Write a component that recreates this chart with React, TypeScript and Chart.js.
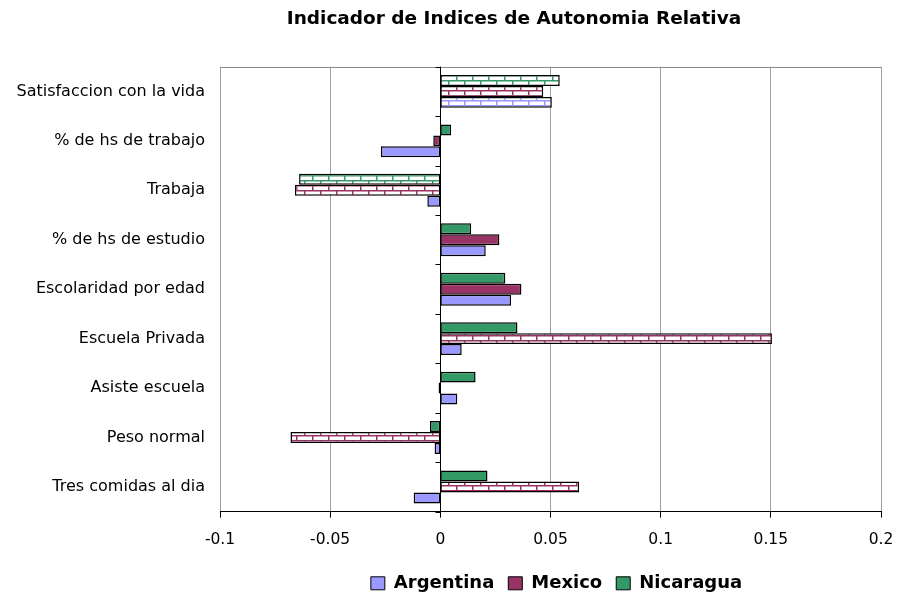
import React, { useEffect, useRef } from "react";
import { Chart, registerables } from "chart.js";

Chart.register(...registerables);

// ---- data ----
const categories = [
  "Satisfaccion con la vida",
  "% de hs de trabajo",
  "Trabaja",
  "% de hs de estudio",
  "Escolaridad por edad",
  "Escuela Privada",
  "Asiste escuela",
  "Peso normal",
  "Tres comidas al dia",
];
const seriesNames = ["Argentina", "Mexico", "Nicaragua"];
const argentina = [0.0506, -0.027, -0.0059, 0.0206, 0.0321, 0.0097, 0.0077, -0.0026, -0.0121];
const mexico = [0.0467, -0.0032, -0.066, 0.0268, 0.0368, 0.1505, -0.0008, -0.068, 0.063];
const nicaragua = [0.0542, 0.0049, -0.0641, 0.014, 0.0295, 0.035, 0.016, -0.0047, 0.0214];
// bars drawn with the hatched (brick) fill
const argentinaHatched = [true, false, false, false, false, false, false, false, false];
const mexicoHatched = [true, false, true, false, false, true, false, true, true];
const nicaraguaHatched = [true, false, true, false, false, false, false, false, false];
const xMin = -0.1;
const xMax = 0.2;
const xStep = 0.05;
const title = "Indicador de Indices de Autonomia Relativa";

// ---- styles ----
const COLORS = ["#9999FF", "#993366", "#339966"];
const FONT = "'DejaVu Sans', 'Liberation Sans', sans-serif";
const TITLE_SHIFT = 73.5;
const LEGEND_SHIFT = 6;

function makeBrick(color: string): CanvasPattern | string {
  const c = document.createElement("canvas");
  c.width = 16;
  c.height = 10;
  const g = c.getContext("2d");
  if (!g) return "#fff";
  g.fillStyle = "#ffffff";
  g.fillRect(0, 0, 16, 10);
  g.fillStyle = color;
  g.fillRect(0, 0, 16, 1.5);
  g.fillRect(0, 5, 16, 1.5);
  g.fillRect(0, 0, 1.5, 5);
  g.fillRect(8, 5, 1.5, 5);
  return g.createPattern(c, "repeat") || "#fff";
}

const decorPlugin = {
  id: "decor",
  afterLayout(chart: any) {
    if (chart.titleBlock) {
      chart.titleBlock.left += TITLE_SHIFT;
      chart.titleBlock.right += TITLE_SHIFT;
    }
    if (chart.legend) {
      chart.legend.left += LEGEND_SHIFT;
      chart.legend.right += LEGEND_SHIFT;
    }
  },
  beforeDatasetsDraw(chart: any) {
    const { ctx, chartArea } = chart;
    ctx.save();
    ctx.strokeStyle = "#8c8c8c";
    ctx.lineWidth = 1;
    ctx.beginPath();
    ctx.moveTo(chartArea.left, Math.round(chartArea.top) + 0.5);
    ctx.lineTo(chartArea.right, Math.round(chartArea.top) + 0.5);
    ctx.stroke();
    ctx.restore();
  },
  afterDatasetsDraw(chart: any) {
    const { ctx, chartArea } = chart;
    const xs = chart.scales.x;
    const ys = chart.scales.y;
    const x0 = Math.round(xs.getPixelForValue(0)) + 0.5;
    ctx.save();
    ctx.strokeStyle = "#000";
    ctx.lineWidth = 1;
    ctx.beginPath();
    ctx.moveTo(x0, chartArea.top);
    ctx.lineTo(x0, chartArea.bottom);
    const n = categories.length;
    const bounds: number[] = [chartArea.top];
    for (let k = 1; k < n; k++) {
      bounds.push((ys.getPixelForTick(k - 1) + ys.getPixelForTick(k)) / 2);
    }
    bounds.push(chartArea.bottom);
    bounds.forEach((b) => {
      const yy = Math.round(b) + 0.5;
      ctx.moveTo(x0 - 5, yy);
      ctx.lineTo(x0, yy);
    });
    ctx.stroke();
    ctx.restore();
  },
};

export default function App() {
  const ref = useRef<HTMLCanvasElement | null>(null);

  useEffect(() => {
    document.body.style.margin = "0";
    const canvas = ref.current;
    if (!canvas) return;

    const series = [
      { name: seriesNames[2], data: nicaragua, hatched: nicaraguaHatched, color: COLORS[2] },
      { name: seriesNames[1], data: mexico, hatched: mexicoHatched, color: COLORS[1] },
      { name: seriesNames[0], data: argentina, hatched: argentinaHatched, color: COLORS[0] },
    ];

    const datasets = series.map((s) => {
      const pat = makeBrick(s.color);
      return {
        label: s.name,
        data: s.data,
        backgroundColor: s.hatched.map((h) => (h ? pat : s.color)),
        borderColor: "#000",
        borderWidth: 1.5,
        borderSkipped: false,
        categoryPercentage: 0.665,
        barPercentage: 1,
        solidColor: s.color,
      };
    });

    const chart = new Chart(canvas, {
      type: "bar",
      data: { labels: categories, datasets: datasets as any },
      plugins: [decorPlugin],
      options: {
        indexAxis: "y",
        animation: false,
        responsive: false,
        maintainAspectRatio: false,
        layout: { padding: { left: 0, right: 16, top: 0, bottom: -6.3 } },
        plugins: {
          title: {
            display: true,
            text: title,
            color: "#000",
            font: { family: FONT, size: 18.5, weight: "bold" },
            padding: { top: 8, bottom: 36.5 },
          },
          legend: {
            display: true,
            position: "bottom",
            fullSize: false,
            reverse: true,
            labels: {
              color: "#000",
              font: { family: FONT, size: 18, weight: "bold" },
              boxWidth: 14,
              boxHeight: 13,
              padding: 14,
              generateLabels: (ch: any) =>
                ch.data.datasets.map((ds: any, i: number) => ({
                  text: ds.label,
                  fillStyle: ds.solidColor,
                  strokeStyle: "#000",
                  lineWidth: 1,
                  hidden: false,
                  datasetIndex: i,
                  fontColor: "#000",
                })),
            },
          },
          tooltip: { enabled: false },
        },
        scales: {
          x: {
            type: "linear",
            position: "bottom",
            min: xMin,
            max: xMax,
            afterFit: (scale: any) => {
              scale.height = 48.6;
              scale.paddingRight = 0;
              scale.paddingLeft = 0;
            },
            ticks: {
              stepSize: xStep,
              color: "#000",
              padding: 13,
              font: { family: FONT, size: 15.5 },
              callback: (v: any) => String(Math.round(Number(v) * 100) / 100),
            },
            grid: {
              color: (c: any) => (c.tick && c.tick.value === 0 ? "rgba(0,0,0,0)" : "#a0a0a0"),
              tickColor: "#000",
              tickLength: 6,
              drawTicks: true,
              lineWidth: 1,
            },
            border: { display: true, color: "#000", width: 1 },
          },
          y: {
            type: "category",
            position: "left",
            afterFit: (scale: any) => {
              scale.width = 220;
            },
            ticks: {
              color: "#000",
              padding: 15,
              font: { family: FONT, size: 16 },
            },
            grid: { display: false, drawTicks: false },
            border: { display: false },
          },
        },
      } as any,
    });

    return () => chart.destroy();
  }, []);

  return (
    <div style={{ width: 897, height: 596, background: "#fff" }}>
      <canvas ref={ref} width={897} height={596} style={{ display: "block" }} />
    </div>
  );
}
